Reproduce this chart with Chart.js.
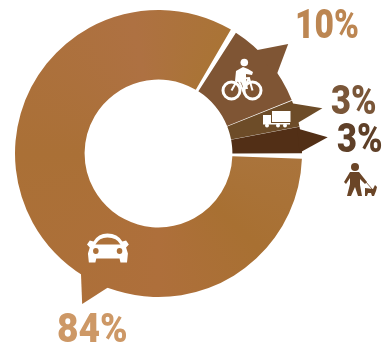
<!DOCTYPE html>
<html>
<head>
<meta charset="utf-8">
<title>Modal share</title>
<script src="https://cdn.jsdelivr.net/npm/chart.js@4"></script>
<style>
    html, body { margin: 0; background: #fff; }
    #wrap { position: relative; width: 386px; height: 347px; }
</style>
</head>
<body>
<div id="wrap"><canvas id="chart" width="386" height="347"></canvas></div>
<script>
var categories = ['Car', 'Bicycle', 'Truck', 'Walking'];
var shares = [84, 10, 3, 3];
var sliceColors = ['#ad7139', '#7f5534', '#6d4c28', '#522f16'];
var labelColors = ['#cd9866', '#bc8652', '#7a5638', '#5f4028'];

// Arrow tips, as [degrees from the slice start, radius in px]
var tips = [
    [[123.4, 141], [116.9, 168.7], [110, 141]],
    [[10.7, 141], [17.4, 169.8], [24.2, 141]],
    [[0.6, 141], [6.2, 170], [9.4, 141]],
    [[0.6, 141], [5.3, 170], [10.5, 141]]
];
// Label anchors: left edge, baseline and horizontal squeeze
var labelSpots = [[57, 342, 0.93], [295, 38, 0.84], [331, 114, 0.86], [337, 152, 0.86]];

function polar(arc, deg, r) {
    var a = arc.startAngle + deg * Math.PI / 180;
    return [arc.x + Math.cos(a) * r, arc.y + Math.sin(a) * r];
}

// Slow tone shift around the car slice
function carFill(ctx, x, y) {
    var g = ctx.createConicGradient(0, x, y);
    g.addColorStop(0, '#aa743c');
    g.addColorStop(0.12, '#a87032');
    g.addColorStop(0.25, '#ae6f3b');
    g.addColorStop(0.5, '#aa7036');
    g.addColorStop(0.72, '#ae7142');
    g.addColorStop(0.85, '#a97434');
    g.addColorStop(1, '#a87a44');
    return g;
}

function drawBike(ctx) {
    ctx.save();
    ctx.translate(242, 79);
    ctx.fillStyle = ctx.strokeStyle = '#fff';
    ctx.lineWidth = 3;
    ctx.beginPath(); ctx.arc(-10.5, 11.5, 8.5, 0, Math.PI * 2); ctx.stroke();
    ctx.beginPath(); ctx.arc(10.5, 11.5, 8.5, 0, Math.PI * 2); ctx.stroke();
    ctx.beginPath(); ctx.arc(2.3, -16.5, 3.8, 0, Math.PI * 2); ctx.fill();
    ctx.lineWidth = 2;
    ctx.beginPath();
    ctx.moveTo(-10.5, 11.5); ctx.lineTo(-4, 0); ctx.lineTo(7, -1); ctx.lineTo(10.5, 11.5);
    ctx.moveTo(-4, 0); ctx.lineTo(1, 11.5); ctx.lineTo(7, -1);
    ctx.stroke();
    ctx.beginPath();
    ctx.moveTo(-6, -8); ctx.lineTo(1, -12); ctx.lineTo(6, -10); ctx.lineTo(11, -7);
    ctx.lineTo(10, -4); ctx.lineTo(4, -5); ctx.lineTo(4, 0); ctx.lineTo(6, 10);
    ctx.lineTo(2, 10); ctx.lineTo(-1, 3); ctx.lineTo(-7, 2);
    ctx.closePath();
    ctx.fill();
    ctx.restore();
}

function drawTruck(ctx) {
    ctx.save();
    ctx.translate(263, 111);
    ctx.fillStyle = '#fff';
    ctx.fillRect(9, 0, 18.5, 11);
    ctx.fillRect(0, 4, 8, 8);
    ctx.fillRect(0, 12, 27, 1.5);
    [4, 15, 22].forEach(function (x) {
        ctx.beginPath(); ctx.arc(x, 14.5, 2, 0, Math.PI * 2); ctx.fill();
    });
    ctx.restore();
}

function drawCar(ctx) {
    ctx.save();
    ctx.translate(87, 233.5);
    ctx.scale(0.93, 1);
    ctx.fillStyle = '#fff';
    ctx.beginPath();
    ctx.moveTo(7, 8);
    ctx.quadraticCurveTo(12, 0, 22, 0);
    ctx.quadraticCurveTo(33, 0, 38, 8);
    ctx.lineTo(42, 7); ctx.lineTo(45, 11); ctx.lineTo(42, 14);
    ctx.lineTo(44, 20); ctx.lineTo(43, 29); ctx.lineTo(36, 29); ctx.lineTo(35, 25);
    ctx.lineTo(10, 25); ctx.lineTo(9, 29); ctx.lineTo(2, 29); ctx.lineTo(1, 20);
    ctx.lineTo(3, 14); ctx.lineTo(0, 11); ctx.lineTo(3, 7);
    ctx.closePath();
    ctx.fill();
    // windscreen and headlights
    ctx.fillStyle = sliceColors[0];
    ctx.beginPath();
    ctx.moveTo(9, 11);
    ctx.quadraticCurveTo(13, 4, 22, 4);
    ctx.quadraticCurveTo(32, 4, 36, 11);
    ctx.closePath();
    ctx.fill();
    ctx.beginPath(); ctx.arc(9.5, 17.5, 3, 0, Math.PI * 2); ctx.fill();
    ctx.beginPath(); ctx.arc(35, 17.5, 3, 0, Math.PI * 2); ctx.fill();
    ctx.restore();
}

function drawWalker(ctx) {
    ctx.save();
    ctx.translate(344, 163);
    ctx.fillStyle = ctx.strokeStyle = '#6b4527';
    ctx.beginPath(); ctx.arc(11, 4, 4, 0, Math.PI * 2); ctx.fill();
    ctx.beginPath();
    ctx.moveTo(6, 9); ctx.lineTo(15, 9); ctx.lineTo(23, 19); ctx.lineTo(21, 21);
    ctx.lineTo(16, 16); ctx.lineTo(16, 22); ctx.lineTo(18, 33); ctx.lineTo(14, 33);
    ctx.lineTo(11, 24); ctx.lineTo(7, 33); ctx.lineTo(3, 33); ctx.lineTo(6, 21);
    ctx.lineTo(6, 15); ctx.lineTo(2, 21); ctx.lineTo(0, 19);
    ctx.closePath();
    ctx.fill();
    ctx.lineWidth = 0.8;
    ctx.beginPath(); ctx.moveTo(22, 19); ctx.lineTo(28, 26); ctx.stroke();
    ctx.beginPath();
    ctx.moveTo(21, 25); ctx.lineTo(29, 26); ctx.lineTo(31, 22); ctx.lineTo(33, 24);
    ctx.lineTo(32, 28); ctx.lineTo(30, 33); ctx.lineTo(28, 33); ctx.lineTo(27, 30);
    ctx.lineTo(24, 30); ctx.lineTo(23, 33); ctx.lineTo(21, 33);
    ctx.closePath();
    ctx.fill();
    ctx.restore();
}

var calloutPlugin = {
    id: 'callouts',
    afterDatasetsDraw: function (chart) {
        var ctx = chart.ctx;
        var arcs = chart.getDatasetMeta(0).data;
        arcs.forEach(function (arc, i) {
            ctx.save();
            ctx.fillStyle = i === 0 ? carFill(ctx, arc.x, arc.y) : sliceColors[i];
            ctx.beginPath();
            tips[i].forEach(function (p, n) {
                var xy = polar(arc, p[0], p[1]);
                if (n === 0) { ctx.moveTo(xy[0], xy[1]); } else { ctx.lineTo(xy[0], xy[1]); }
            });
            ctx.closePath();
            ctx.fill();
            ctx.restore();
        });

        drawBike(ctx);
        drawTruck(ctx);
        drawCar(ctx);
        drawWalker(ctx);

        shares.forEach(function (v, i) {
            ctx.save();
            ctx.translate(labelSpots[i][0], labelSpots[i][1]);
            ctx.scale(labelSpots[i][2], 1);
            ctx.font = '900 40px Roboto';
            ctx.textAlign = 'left';
            ctx.textBaseline = 'alphabetic';
            ctx.fillStyle = labelColors[i];
            ctx.fillText(v + '%', 0, 0);
            ctx.restore();
        });
    }
};

new Chart(document.getElementById('chart'), {
    type: 'doughnut',
    data: {
        labels: categories,
        datasets: [{
            data: shares,
            backgroundColor: function (c) {
                var area = c.chart.chartArea;
                if (c.dataIndex !== 0 || !area) {
                    return sliceColors[c.dataIndex];
                }
                return carFill(c.chart.ctx, (area.left + area.right) / 2, (area.top + area.bottom) / 2);
            },
            borderWidth: 0,
            spacing: 3
        }]
    },
    options: {
        responsive: false,
        animation: false,
        rotation: 90,
        cutout: 77.5,
        radius: 142,
        layout: { padding: { right: 69, bottom: 40 } },
        plugins: { legend: { display: false }, tooltip: { enabled: false } }
    },
    plugins: [calloutPlugin]
});
</script>
</body>
</html>
